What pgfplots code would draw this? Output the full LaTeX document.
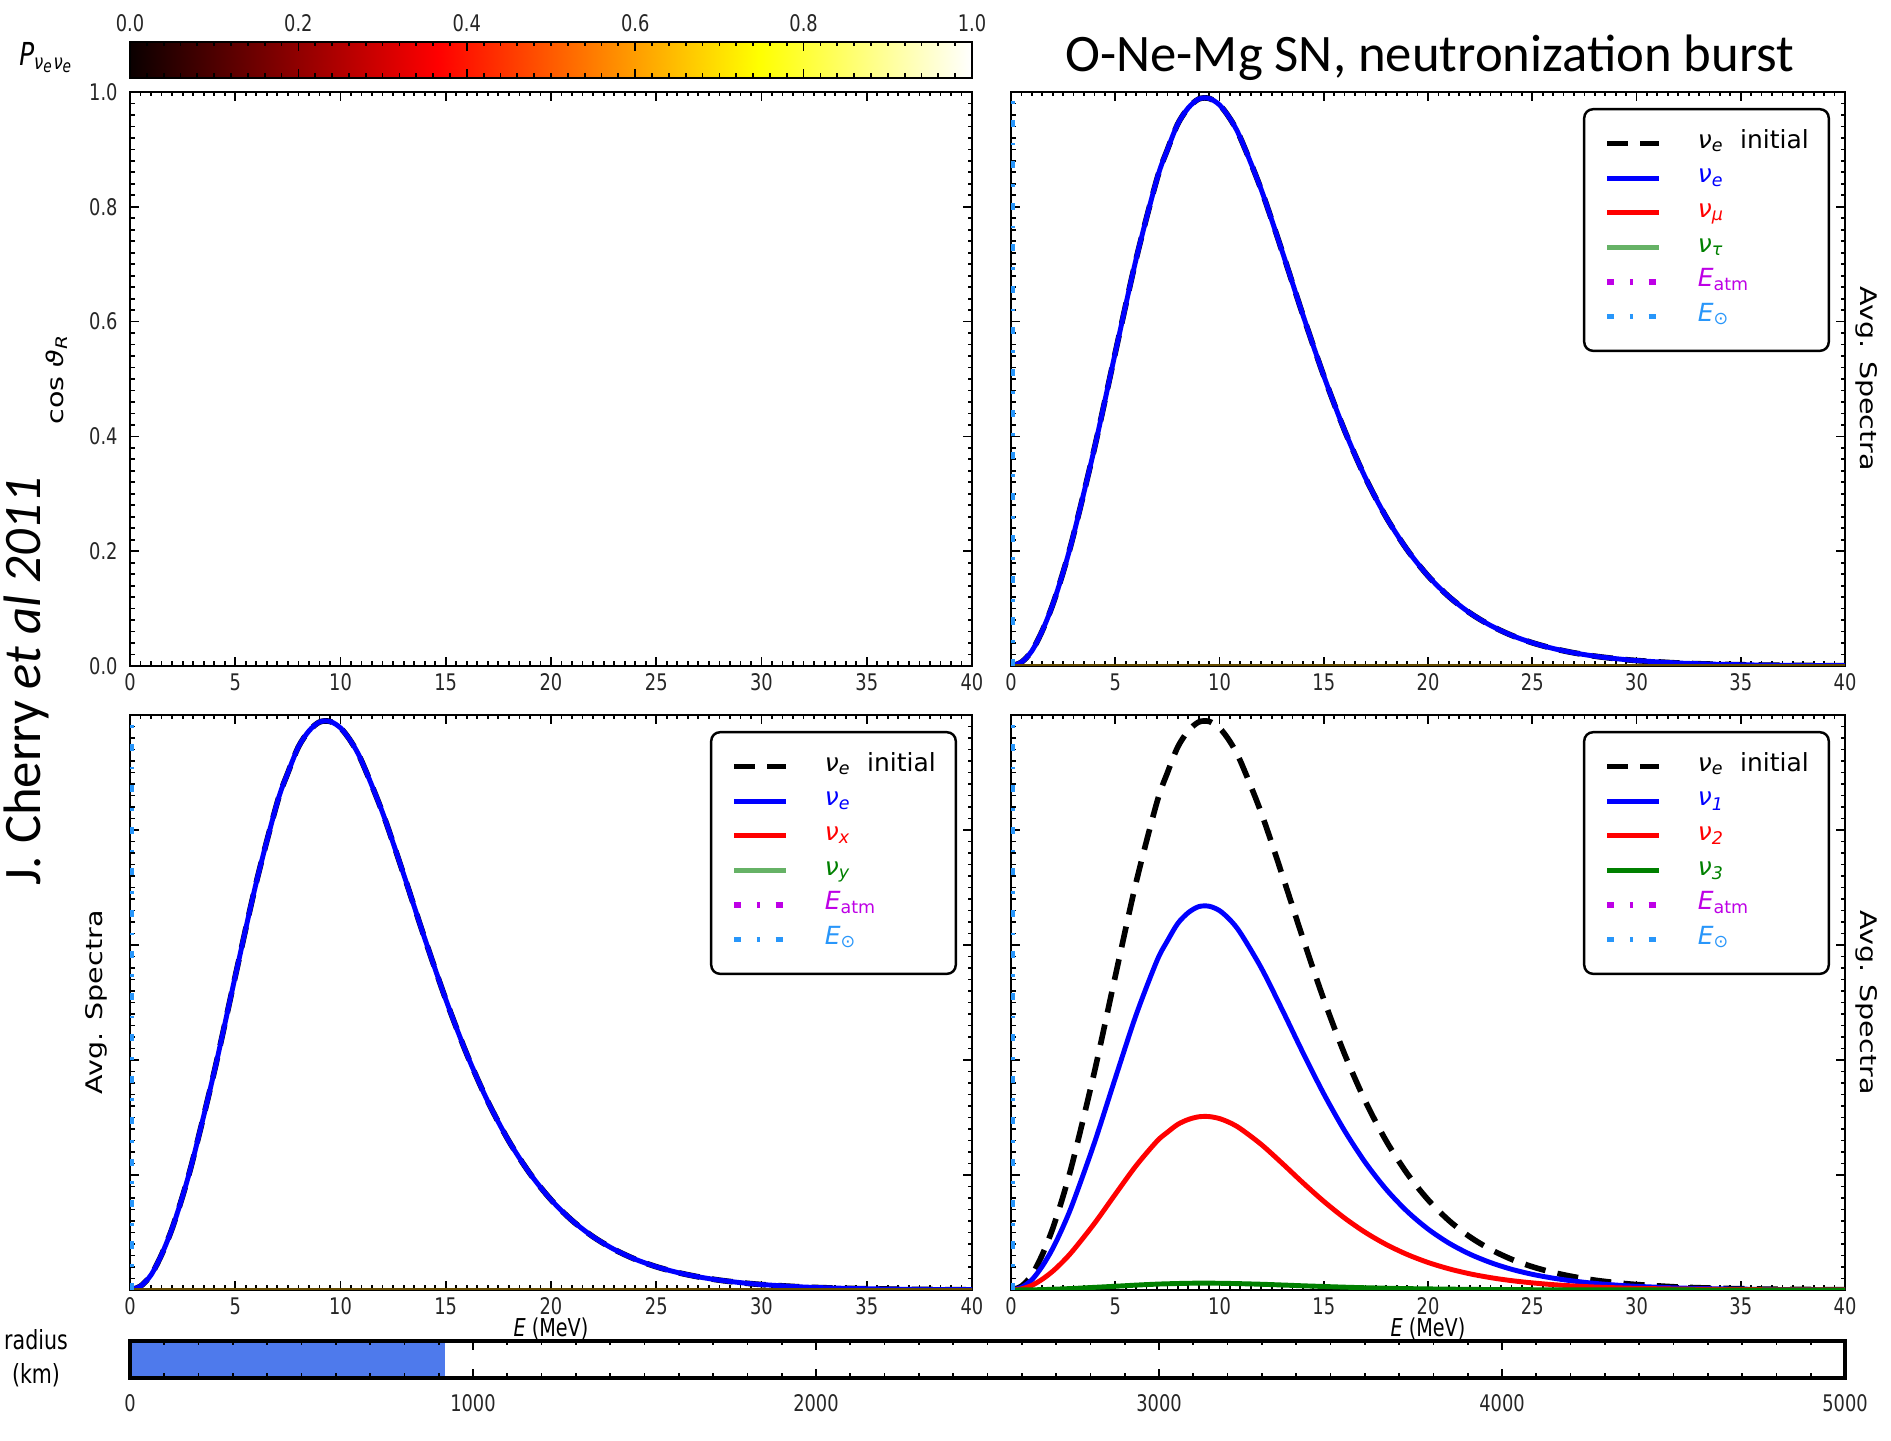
\documentclass[border=0pt]{standalone}
\usepackage{fontspec}
\setmainfont{DejaVu Sans}
\newfontfamily\tickfont{DejaVu Sans}[FakeStretch=0.78]
\newfontfamily\rotfont{DejaVu Sans}[FakeStretch=1.25]
\newfontfamily\carlito{Carlito}
\usepackage{pgfplots}
\pgfplotsset{compat=1.18}
\usepackage{pgfplotstable}

\definecolor{mgreen}{RGB}{0,128,0}
\definecolor{atmcol}{RGB}{190,0,230}
\definecolor{suncol}{RGB}{40,150,250}
\definecolor{radblue}{RGB}{78,122,236}

\newcommand{\tfont}{\tickfont\fontsize{6.5}{7.5}\selectfont}
\newcommand{\lfont}{\fontsize{7.1}{8.5}\selectfont}
\newcommand{\nusub}[1]{{\itshape ν\textsubscript{#1}}}

\pgfplotsset{
  colormap={mplhot}{rgb(0pt)=(0.04,0,0); rgb(365pt)=(1,0,0); rgb(746pt)=(1,1,0); rgb(1000pt)=(1,1,1)},
  mpl ticks/.style={
    tick align=inside,
    major tick length=0.09cm, minor tick length=0.045cm,
    tick style={black, line width=0.5pt},
    axis line style={line width=0.7pt},
    tick label style={font=\tfont, text=black!85},
    /pgf/number format/assume math mode=true,
  },
  panel/.style={
    mpl ticks, scale only axis, anchor=south west,
    xmin=0, xmax=40, ymin=0, ymax=1,
    xtick={0,5,...,40}, minor x tick num=9,
    ytick={0,0.2,0.4,0.6,0.8,1.0}, minor y tick num=9,
    xticklabel style={yshift=0.05cm},
    legend cell align=left,
    legend style={at={(1,1)}, anchor=north east, xshift=-0.15cm, yshift=-0.16cm,
      draw=black, line width=0.7pt, rounded corners=2.5pt, fill=white,
      inner xsep=0.2cm, inner ysep=0.17cm, column sep=0.36cm, row sep=0pt,
      font=\lfont,
      nodes={inner sep=0pt, text height=0.22cm, text depth=0.126cm}},
    legend image code/.code={\draw[##1] (0cm,0cm) -- (0.52cm,0cm);},
  },
  init/.style={black, line width=1.6pt, dash pattern=on 6pt off 3.5pt},
  nue/.style={blue, line width=1.4pt},
  nur/.style={red, line width=1.4pt},
  nug/.style={mgreen, line width=1.4pt},
  eatm/.style={atmcol, line width=1.5pt, dash pattern=on 2pt off 4.5pt on 0.8pt off 4.5pt},
  esun/.style={suncol, line width=1.5pt, dash pattern=on 2pt off 4.5pt on 0.8pt off 4.5pt},
}

% E [MeV], nu_e initial, nu_1, nu_2, nu_3
\pgfplotstableread{
E B n1 n2 n3
0 0 0 0 0
0.5 0.0066 0.0045 0.0020 0.0001
1 0.0262 0.0177 0.0080 0.0003
1.5 0.0614 0.0414 0.0187 0.0007
2 0.1069 0.0722 0.0326 0.0013
2.5 0.1634 0.1103 0.0498 0.0020
3 0.2287 0.1544 0.0698 0.0027
4 0.3792 0.2560 0.1157 0.0046
5 0.5455 0.3682 0.1664 0.0065
6 0.7088 0.4784 0.2162 0.0085
7 0.8484 0.5727 0.2588 0.0102
7.5 0.8994 0.6071 0.2743 0.0108
8 0.9445 0.6375 0.2881 0.0113
8.5 0.9722 0.6562 0.2965 0.0117
9 0.9877 0.6667 0.3012 0.0119
9.5 0.9888 0.6674 0.3016 0.0119
10 0.9775 0.6598 0.2981 0.0117
10.5 0.9538 0.6438 0.2909 0.0114
11 0.9201 0.6211 0.2806 0.0110
12 0.8300 0.5603 0.2532 0.0100
13 0.7228 0.4879 0.2205 0.0087
14 0.6115 0.4128 0.1865 0.0073
15 0.5055 0.3412 0.1542 0.0061
16 0.4102 0.2769 0.1251 0.0049
17 0.3278 0.2213 0.1000 0.0039
18 0.2589 0.1748 0.0790 0.0031
19 0.2025 0.1367 0.0618 0.0024
20 0.1570 0.1060 0.0479 0.0019
21 0.1209 0.0816 0.0369 0.0015
22 0.0926 0.0625 0.0282 0.0011
23 0.0706 0.0477 0.0215 0.0008
24 0.0535 0.0361 0.0163 0.0006
25 0.0405 0.0273 0.0124 0.0005
26 0.0305 0.0206 0.0093 0.0004
27 0.0229 0.0155 0.0070 0.0003
28 0.0171 0.0115 0.0052 0.0002
29 0.0128 0.0086 0.0039 0.0002
30 0.0095 0.0064 0.0029 0.0001
32 0.0052 0.0035 0.0016 0.0001
34 0.0029 0.0020 0.0009 0.0000
36 0.0016 0.0011 0.0005 0.0000
38 0.0009 0.0006 0.0003 0.0000
40 0.0005 0.0003 0.0002 0.0000
}\spec

\begin{document}
\begin{tikzpicture}
\path[use as bounding box] (0,0) rectangle (18.91,14.41);

% colorbar P_ee
\begin{axis}[mpl ticks, scale only axis, anchor=south west, at={(1.30cm,13.63cm)},
  width=8.42cm, height=0.36cm, xmin=0, xmax=1, ymin=0, ymax=1,
  xtick={0,0.2,0.4,0.6,0.8,1.0}, minor x tick num=9,
  xticklabel pos=upper, xtick pos=both, ytick=\empty, axis on top,
  xticklabel style={yshift=-0.02cm, /pgf/number format/.cd, fixed, fixed zerofill, precision=1},
  colormap name=mplhot, point meta min=0, point meta max=1]
\addplot[surf, shader=interp, mesh/cols=21, point meta=x] coordinates {
(0,0) (0.05,0) (0.1,0) (0.15,0) (0.2,0) (0.25,0) (0.3,0) (0.35,0) (0.4,0) (0.45,0) (0.5,0)
(0.55,0) (0.6,0) (0.65,0) (0.7,0) (0.75,0) (0.8,0) (0.85,0) (0.9,0) (0.95,0) (1,0)
(0,1) (0.05,1) (0.1,1) (0.15,1) (0.2,1) (0.25,1) (0.3,1) (0.35,1) (0.4,1) (0.45,1) (0.5,1)
(0.55,1) (0.6,1) (0.65,1) (0.7,1) (0.75,1) (0.8,1) (0.85,1) (0.9,1) (0.95,1) (1,1)
};
\end{axis}

% top left: cos theta_R panel
\begin{axis}[panel, at={(1.30cm,7.75cm)}, width=8.42cm, height=5.74cm,
  yticklabel style={/pgf/number format/.cd, fixed, fixed zerofill, precision=1}]
\addplot[draw=none, forget plot] coordinates {(0,0) (40,1)};
\end{axis}

% top right
\begin{axis}[panel, at={(10.11cm,7.75cm)}, width=8.34cm, height=5.74cm, yticklabels={}]
\addplot[init, smooth] table[x=E, y=B] {\spec};
\addlegendentry{\nusub{e}\ \ initial}
\addplot[nue, smooth] table[x=E, y=B] {\spec};
\addlegendentry{\textcolor{blue}{\nusub{e}}}
\addplot[nur] coordinates {(0,0) (40,0)};
\addlegendentry{\textcolor{red}{\nusub{μ}}}
\addplot[nug, opacity=0.6] coordinates {(0,0) (40,0)};
\addlegendentry{\textcolor{mgreen}{\nusub{τ}}}
\addplot[eatm] coordinates {(0.08,0) (0.08,1)};
\addlegendentry{\textcolor{atmcol}{{\itshape E}\textsubscript{atm}}}
\addplot[esun] coordinates {(0.08,0) (0.08,1)};
\addlegendentry{\textcolor{suncol}{{\itshape E}\textsubscript{⊙}}}
\end{axis}

% bottom left
\begin{axis}[panel, at={(1.30cm,1.51cm)}, width=8.42cm, height=5.75cm, yticklabels={}]
\addplot[init, smooth] table[x=E, y=B] {\spec};
\addlegendentry{\nusub{e}\ \ initial}
\addplot[nue, smooth] table[x=E, y=B] {\spec};
\addlegendentry{\textcolor{blue}{\nusub{e}}}
\addplot[nur] coordinates {(0,0) (40,0)};
\addlegendentry{\textcolor{red}{\nusub{x}}}
\addplot[nug, opacity=0.6] coordinates {(0,0) (40,0)};
\addlegendentry{\textcolor{mgreen}{\nusub{y}}}
\addplot[eatm] coordinates {(0.08,0) (0.08,1)};
\addlegendentry{\textcolor{atmcol}{{\itshape E}\textsubscript{atm}}}
\addplot[esun] coordinates {(0.08,0) (0.08,1)};
\addlegendentry{\textcolor{suncol}{{\itshape E}\textsubscript{⊙}}}
\end{axis}

% bottom right: mass basis
\begin{axis}[panel, at={(10.11cm,1.51cm)}, width=8.34cm, height=5.75cm, yticklabels={}]
\addplot[init, smooth] table[x=E, y=B] {\spec};
\addlegendentry{\nusub{e}\ \ initial}
\addplot[nue, smooth] table[x=E, y=n1] {\spec};
\addlegendentry{\textcolor{blue}{\nusub{1}}}
\addplot[nur, smooth] table[x=E, y=n2] {\spec};
\addlegendentry{\textcolor{red}{\nusub{2}}}
\addplot[nug, smooth] table[x=E, y=n3] {\spec};
\addlegendentry{\textcolor{mgreen}{\nusub{3}}}
\addplot[eatm] coordinates {(0.08,0) (0.08,1)};
\addlegendentry{\textcolor{atmcol}{{\itshape E}\textsubscript{atm}}}
\addplot[esun] coordinates {(0.08,0) (0.08,1)};
\addlegendentry{\textcolor{suncol}{{\itshape E}\textsubscript{⊙}}}
\end{axis}

% radius bar
\begin{axis}[mpl ticks, scale only axis, anchor=south west, at={(1.30cm,0.63cm)},
  width=17.15cm, height=0.37cm, xmin=0, xmax=5000, ymin=0, ymax=1,
  xtick={0,1000,...,5000}, minor x tick num=9, ytick=\empty, axis on top,
  axis line style={line width=1pt},
  xticklabel style={yshift=-0.04cm, /pgf/number format/1000 sep={}}]
\addplot[fill=radblue, draw=none] coordinates {(0,0) (0,1) (918,1) (918,0)} -- cycle;
\end{axis}

% labels
\node[rotate=90, font=\rotfont\fontsize{6.5}{8}\selectfont, inner sep=0] at (0.57,10.62) {cos {\itshape ϑ}\textsubscript{\itshape R}};
\node[rotate=90, font=\rotfont\fontsize{6.5}{8}\selectfont, inner sep=0] at (0.96,4.385) {Avg. Spectra};
\node[rotate=-90, font=\rotfont\fontsize{6.5}{8}\selectfont, inner sep=0] at (18.67,10.62) {Avg. Spectra};
\node[rotate=-90, font=\rotfont\fontsize{6.5}{8}\selectfont, inner sep=0] at (18.67,4.385) {Avg. Spectra};
\node[font=\tickfont\fontsize{7}{8}\selectfont, inner sep=0] at (5.51,1.12) {{\itshape E} (MeV)};
\node[font=\tickfont\fontsize{7}{8}\selectfont, inner sep=0] at (14.28,1.12) {{\itshape E} (MeV)};
\node[font=\tickfont\fontsize{7.5}{9.7}\selectfont, inner sep=0, align=center] at (0.36,0.83) {radius\\(km)};
\node[font=\tickfont\fontsize{9}{10}\selectfont, inner sep=0] at (0.47,13.83) {{\itshape P}\textsubscript{\itshape ν\textsubscript{e}ν\textsubscript{e}}};
\node[font=\carlito\fontsize{15}{18}\selectfont, inner sep=0] at (14.30,13.83) {O-Ne-Mg SN, neutronization burst};
\node[rotate=90, font=\carlito\fontsize{15}{18}\selectfont, inner sep=0] at (0.26,7.60) {J. Cherry \textit{et al 2011}};
\end{tikzpicture}
\end{document}
